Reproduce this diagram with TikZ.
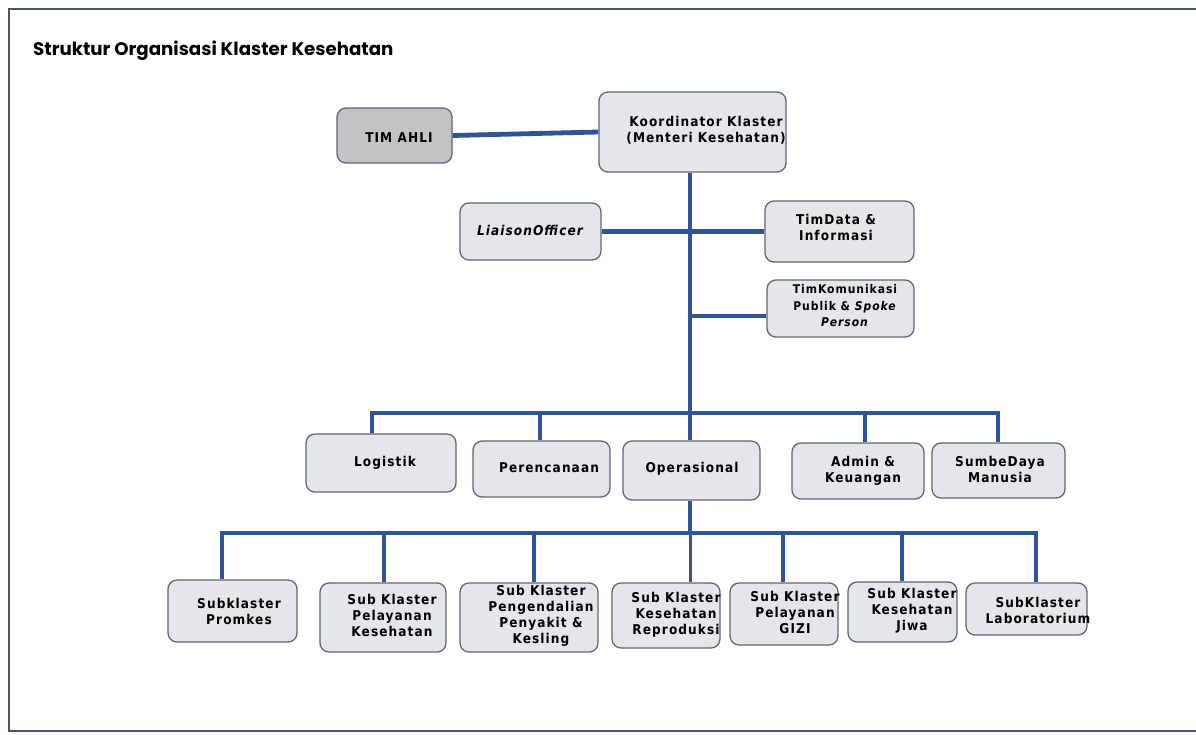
\documentclass[tikz,border=0pt]{standalone}
\usepackage{fontspec}
\newfontfamily\boxfont{DejaVu Sans Condensed}[LetterSpace=8]
\newfontfamily\titlefont{Poppins}
\definecolor{lineblue}{HTML}{2F5597}
\definecolor{boxfill}{HTML}{E5E6EA}
\definecolor{boxedge}{HTML}{5F6678}
\definecolor{greyfill}{HTML}{C3C3C5}
\definecolor{frameline}{HTML}{4E5566}
\tikzset{
  orgbox/.style={draw=boxedge, fill=boxfill, line width=1.3pt, rounded corners=9pt, inner sep=0pt},
  boxtext/.style={font=\boxfont\bfseries\fontsize{13.5}{16}\selectfont, align=center, inner sep=0pt, text=black},
  smalltext/.style={font=\boxfont\bfseries\fontsize{12}{16.5}\selectfont, align=center, inner sep=0pt, text=black},
  conn/.style={draw=lineblue, line width=4.8pt, line join=miter},
}
\begin{document}
\begin{tikzpicture}[x=1pt,y=-1pt]
\useasboundingbox (0,0) rectangle (1196,734);
\fill[white] (0,0) rectangle (1196,734);
% page frame (open on the right)
\draw[frameline, line width=1.5pt] (1196,9) -- (9,9) -- (9,731) -- (1196,731);

\node[font=\titlefont\bfseries\fontsize{18.2}{21}\selectfont, anchor=base west, inner sep=0pt] (title) at (33,55) {Struktur Organisasi Klaster Kesehatan};

% boxes
\node[orgbox, fill=greyfill, minimum width=115pt, minimum height=55pt] (timahli) at (394.5,135.5) {};
\node[orgbox, minimum width=187pt, minimum height=80pt] (koord) at (692.5,132) {};
\node[orgbox, minimum width=141pt, minimum height=57pt] (liaison) at (530.5,231.5) {};
\node[orgbox, minimum width=149pt, minimum height=61pt] (data) at (839.5,231.5) {};
\node[orgbox, minimum width=147pt, minimum height=57pt] (kom) at (840.5,308.5) {};

\node[orgbox, minimum width=150pt, minimum height=58pt] (log) at (381,463) {};
\node[orgbox, minimum width=137pt, minimum height=56pt] (per) at (541.5,469) {};
\node[orgbox, minimum width=137pt, minimum height=59pt] (opr) at (691.5,470.5) {};
\node[orgbox, minimum width=132pt, minimum height=56pt] (adm) at (858,471) {};
\node[orgbox, minimum width=133pt, minimum height=55pt] (sdm) at (998.5,470.5) {};

\node[orgbox, minimum width=129pt, minimum height=62pt] (promkes) at (232.5,611) {};
\node[orgbox, minimum width=126pt, minimum height=69pt] (pelkes) at (383,617.5) {};
\node[orgbox, minimum width=138pt, minimum height=69pt] (ppkes) at (529,617.5) {};
\node[orgbox, minimum width=108pt, minimum height=65pt] (repro) at (666,615.5) {};
\node[orgbox, minimum width=108pt, minimum height=62pt] (gizi) at (784,614) {};
\node[orgbox, minimum width=109pt, minimum height=60pt] (jiwa) at (902.5,612) {};
\node[orgbox, minimum width=121pt, minimum height=52pt] (lab) at (1026.5,609) {};

% labels
\node[boxtext] (ttimahli) at (399,138) {TIM AHLI};
\node[boxtext] (tkoord) at (706,130) {Koordinator Klaster\\(Menteri Kesehatan)};
\node[boxtext, font=\boxfont\bfseries\itshape\fontsize{13.5}{16}\selectfont] (tliaison) at (530,230) {LiaisonOfficer};
\node[boxtext] (tdata) at (836,227) {TimData \&\\Informasi};
\node[smalltext] (tkom) at (845,306) {TimKomunikasi\\Publik \& \textit{Spoke}\\\textit{Person}};

\node[boxtext] (tlog) at (385,463) {Logistik};
\node[boxtext] (tper) at (549,468) {Perencanaan};
\node[boxtext] (topr) at (692,469) {Operasional};
\node[boxtext] (tadm) at (863,471) {Admin \&\\Keuangan};
\node[boxtext] (tsdm) at (1000,469) {SumbeDaya\\Manusia};

\node[boxtext] (tpromkes) at (239,611) {Subklaster\\Promkes};
\node[boxtext] (tpelkes) at (392,615) {Sub Klaster\\Pelayanan\\Kesehatan};
\node[boxtext] (tppkes) at (541,616) {Sub Klaster\\Pengendalian\\Penyakit \&\\Kesling};
\node[boxtext] (trepro) at (676,615) {Sub Klaster\\Kesehatan\\Reproduksi};
\node[boxtext] (tgizi) at (795,612) {Sub Klaster\\Pelayanan\\GIZI};
\node[boxtext] (tjiwa) at (912,611) {Sub Klaster\\Kesehatan\\Jiwa};
\node[boxtext] (tlab) at (1038,610) {SubKlaster\\Laboratorium};

% junction coordinates
\coordinate (tx) at (690,0);
\coordinate (kj) at (690,316);
\coordinate (b1) at (372,413);
\coordinate (b2) at (998,413);
\coordinate (bper) at (540,413);
\coordinate (badm) at (865,413);
\coordinate (o1) at (222,533);
\coordinate (o2) at (1036,533);
\coordinate (opel) at (384,533);
\coordinate (opp) at (534,533);
\coordinate (ogizi) at (783,533);
\coordinate (ojiwa) at (902,533);

% connectors
\draw[conn] (timahli.east) -- (koord.west);
\draw[conn] (koord.south -| tx) -- (opr.north -| tx);
\draw[conn] (liaison.east) -- (data.west);
\draw[conn] (kj) -- (kj -| kom.west);
\draw[conn] (b1 |- log.north) -- (b1) -- (b2) -- (b2 |- sdm.north);
\draw[conn] (bper) -- (bper |- per.north);
\draw[conn] (badm) -- (badm |- adm.north);
\draw[conn] (opr.south -| tx) -- (tx |- o1);
\draw[conn] (o1 |- promkes.north) -- (o1) -- (o2) -- (o2 |- lab.north);
\draw[conn] (opel) -- (opel |- pelkes.north);
\draw[conn] (opp) -- (opp |- ppkes.north);
\draw[conn, line width=3pt] (tx |- o1) -- (tx |- repro.north);
\draw[conn] (ogizi) -- (ogizi |- gizi.north);
\draw[conn] (ojiwa) -- (ojiwa |- jiwa.north);
\end{tikzpicture}
\end{document}
